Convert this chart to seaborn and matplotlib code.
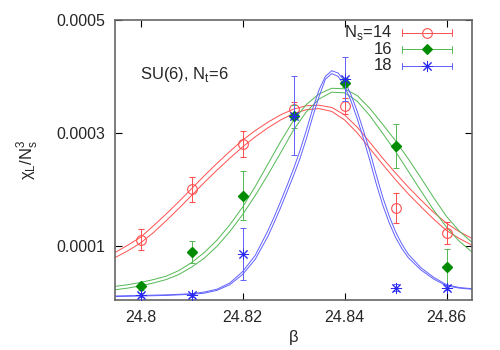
import numpy as np
import pandas as pd
import matplotlib
matplotlib.use("Agg")
import matplotlib.pyplot as plt
import seaborn as sns

# ---- puntos medidos ----
beta = [24.80, 24.81, 24.82, 24.83, 24.84, 24.85, 24.86]
chi_ns14 = [0.000111, 0.000200, 0.000281, 0.000342, 0.000348, 0.000167, 0.000122]
err_ns14 = [0.0000187, 0.000022, 0.000023, 0.0000125, 0.000014, 0.0000266, 0.0000195]
chi_ns16 = [0.000028, 0.000089, 0.000189, 0.000329, 0.000389, 0.000277, 0.000062]
err_ns16 = [0.0000055, 0.00002, 0.000043, 0.000021, 0.000008, 0.000039, 0.000032]
chi_ns18 = [0.000013, 0.000012, 0.000086, 0.000330, 0.000395, 0.000026, 0.000026]
err_ns18 = [0.000003, 0.000002, 0.000046, 0.00007, 0.000039, 0.000006, 0.000005]

# ---- bandas del ajuste ----
beta_fit = [24.795, 24.7975, 24.80, 24.8025, 24.805, 24.8075, 24.81, 24.8125,
            24.815, 24.8175, 24.82, 24.8225, 24.825, 24.8275, 24.83, 24.8325,
            24.835, 24.8375, 24.84, 24.8425, 24.845, 24.8475, 24.85, 24.8525,
            24.855, 24.8575, 24.86, 24.8625, 24.865]
fit14_hi = [0.000088, 0.000101, 0.000115, 0.000135, 0.000156, 0.000178, 0.000201, 0.000224,
            0.000246, 0.000267, 0.000287, 0.000304, 0.000319, 0.000332, 0.000342, 0.000348,
            0.000349, 0.000345, 0.000332, 0.000310, 0.000283, 0.000255, 0.000229, 0.000204,
            0.000181, 0.000159, 0.000140, 0.000125, 0.000113]
fit14_lo = [0.000079, 0.000091, 0.000105, 0.000123, 0.000144, 0.000166, 0.000189, 0.000212,
            0.000234, 0.000255, 0.000275, 0.000293, 0.000309, 0.000323, 0.000334, 0.000341,
            0.000343, 0.000338, 0.000323, 0.000300, 0.000272, 0.000244, 0.000217, 0.000192,
            0.000169, 0.000147, 0.000127, 0.000113, 0.000101]
fit16_hi = [0.000028, 0.000031, 0.000035, 0.000040, 0.000046, 0.000056, 0.000070, 0.000088,
            0.000110, 0.000137, 0.000168, 0.000205, 0.000245, 0.000285, 0.000322, 0.000350,
            0.000369, 0.000379, 0.000378, 0.000366, 0.000343, 0.000315, 0.000286, 0.000254,
            0.000220, 0.000185, 0.000152, 0.000126, 0.000106]
fit16_lo = [0.000022, 0.000025, 0.000029, 0.000034, 0.000040, 0.000049, 0.000062, 0.000078,
            0.000099, 0.000125, 0.000155, 0.000189, 0.000226, 0.000265, 0.000305, 0.000337,
            0.000360, 0.000372, 0.000371, 0.000356, 0.000330, 0.000299, 0.000267, 0.000232,
            0.000197, 0.000163, 0.000133, 0.000108, 0.000089]

beta_fit18 = [24.795, 24.80, 24.805, 24.81, 24.8125, 24.815, 24.8175, 24.82, 24.8225,
              24.825, 24.82625, 24.8275, 24.82875, 24.83, 24.83125, 24.8325, 24.83375,
              24.835, 24.83625, 24.8375, 24.83875, 24.84, 24.84125, 24.8425, 24.84375,
              24.845, 24.84625, 24.8475, 24.84875, 24.85, 24.85125, 24.8525, 24.855,
              24.8575, 24.86, 24.8625, 24.865]
fit18_hi = [0.000011, 0.000012, 0.000013, 0.000015, 0.000018, 0.000023, 0.000034, 0.000054,
            0.000083, 0.000127, 0.000152, 0.000179, 0.000207, 0.000236, 0.000268, 0.000304,
            0.000342, 0.000376, 0.000400, 0.000410, 0.000406, 0.000392, 0.000368, 0.000338,
            0.000303, 0.000266, 0.000225, 0.000186, 0.000153, 0.000125, 0.000103, 0.000085,
            0.000061, 0.000044, 0.000031, 0.000026, 0.000024]
fit18_lo = [0.000010, 0.000011, 0.000012, 0.000014, 0.000016, 0.000021, 0.000031, 0.000049,
            0.000076, 0.000117, 0.000142, 0.000168, 0.000196, 0.000224, 0.000254, 0.000289,
            0.000328, 0.000364, 0.000395, 0.000405, 0.000400, 0.000383, 0.000357, 0.000325,
            0.000289, 0.000250, 0.000209, 0.000172, 0.000141, 0.000115, 0.000095, 0.000079,
            0.000057, 0.000041, 0.000029, 0.000025, 0.000023]

labels = ["N$_\\mathregular{s}$=14", "16", "18"]

sns.set_style("ticks")
plt.rcParams["font.family"] = ["Liberation Sans", "DejaVu Sans"]

C_RED = "#ff4f4f"
C_GRN_LINE = "#52b852"
C_GRN = "#008c00"
C_BLU_LINE = "#6060ff"
C_BLU = "#2a2af0"
LW = 0.7

fig = plt.figure(figsize=(5, 3.5), dpi=100)
ax = fig.add_axes([0.23, 0.143, 0.714, 0.8])

# curvas de ajuste
curvas = [
    (beta_fit, fit14_hi, C_RED), (beta_fit, fit14_lo, C_RED),
    (beta_fit, fit16_hi, C_GRN_LINE), (beta_fit, fit16_lo, C_GRN_LINE),
    (beta_fit18, fit18_hi, C_BLU_LINE), (beta_fit18, fit18_lo, C_BLU_LINE),
]
for xs, ys, col in curvas:
    df = pd.DataFrame({"beta": xs, "chi": ys})
    sns.lineplot(data=df, x="beta", y="chi", color=col, lw=LW,
                 estimator=None, sort=False, ax=ax)

# puntos con barras de error
ax.errorbar(beta, chi_ns14, yerr=err_ns14, fmt="o", ms=7, mfc="none", mec=C_RED,
            mew=0.8, ecolor=C_RED, elinewidth=LW, capsize=2.5, capthick=LW, zorder=3)
ax.errorbar(beta, chi_ns16, yerr=err_ns16, fmt="D", ms=5.5, mfc=C_GRN, mec=C_GRN,
            ecolor=C_GRN_LINE, elinewidth=LW, capsize=2.5, capthick=LW, zorder=4)
ax.errorbar(beta, chi_ns18, yerr=err_ns18, fmt="none", ecolor=C_BLU_LINE,
            elinewidth=LW, capsize=2.5, capthick=LW, zorder=5)
ax.plot(beta, chi_ns18, ls="none", marker=(8, 2, 0), ms=8, mec=C_BLU, mew=0.7, zorder=6)

# leyenda estilo gnuplot
tr = ax.transAxes
rows = [0.954, 0.895, 0.836]
estilos = [
    dict(marker="o", ms=7, mfc="none", mec=C_RED, mew=0.8, lc=C_RED),
    dict(marker="D", ms=5.5, mfc=C_GRN, mec=C_GRN, mew=0.8, lc=C_GRN_LINE),
    dict(marker=(8, 2, 0), ms=8, mfc=C_BLU, mec=C_BLU, mew=0.7, lc=C_BLU_LINE),
]
for yy, lab, st in zip(rows, labels, estilos):
    ax.text(0.776, yy, lab, transform=tr, ha="right", va="center", fontsize=12)
    ax.plot([0.804, 0.944], [yy, yy], transform=tr, color=st["lc"], lw=LW)
    for xe in (0.804, 0.944):
        ax.plot([xe, xe], [yy - 0.012, yy + 0.012], transform=tr, color=st["lc"], lw=LW)
    ax.plot([0.874], [yy], transform=tr, ls="none", marker=st["marker"], ms=st["ms"],
            mfc=st["mfc"], mec=st["mec"], mew=st["mew"])

ax.text(0.07, 0.805, "SU(6), N$_\\mathregular{t}$=6", transform=tr, fontsize=12,
        ha="left", va="center")

ax.set_xlim(24.795, 24.865)
ax.set_ylim(0.000004, 0.0005)
ax.set_xticks([24.80, 24.82, 24.84, 24.86])
ax.set_xticklabels(["24.8", "24.82", "24.84", "24.86"])
ax.set_yticks([0.0001, 0.0003, 0.0005])
ax.set_yticklabels(["0.0001", "0.0003", "0.0005"])
ax.tick_params(direction="in", length=5, width=0.8, top=True, right=True,
               labelsize=11.5, pad=7, color="black")
for s in ax.spines.values():
    s.set_color("#666666")
    s.set_linewidth(1.2)

ax.set_xlabel("β", fontsize=12, labelpad=4)
ax.set_ylabel("χ$_\\mathregular{L}$/N$_\\mathregular{s}^\\mathregular{3}$", fontsize=12, labelpad=12)

fig.savefig("out.png", dpi=100)
